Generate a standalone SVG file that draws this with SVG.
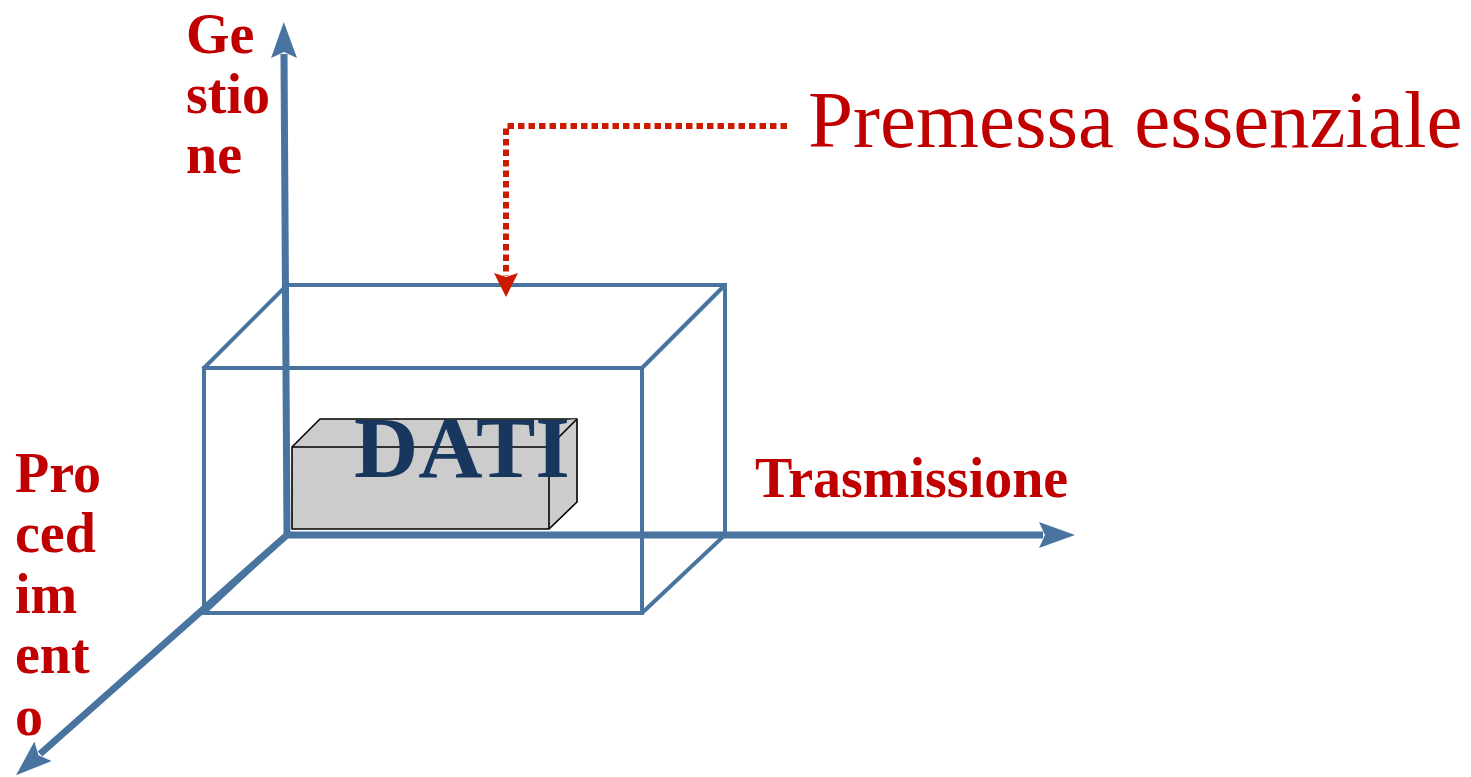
<svg xmlns="http://www.w3.org/2000/svg" width="1471" height="777" viewBox="0 0 1471 777">
<style>
.frame{fill:none;stroke:#4a74a0;stroke-width:4;stroke-linejoin:miter}
.axis{fill:none;stroke:#4a74a0;stroke-width:7}
.lbl{font-family:"Liberation Serif","Times New Roman",serif;font-weight:bold;fill:#c00000;font-size:56px}
.dati{fill:#cccccc;stroke:#000;stroke-width:1.6;stroke-linejoin:round}
</style>
<defs>
<marker id="ah" markerUnits="userSpaceOnUse" markerWidth="40" markerHeight="30" refX="4" refY="13" orient="auto" viewBox="0 0 40 30">
<path d="M36,13 L0,0 L6,13 L0,26 Z" fill="#4a74a0"/>
</marker>
<marker id="rh" markerUnits="userSpaceOnUse" markerWidth="26" markerHeight="26" refX="3" refY="12" orient="auto" viewBox="0 0 26 26">
<path d="M24,12 L0,0 L4,12 L0,24 Z" fill="#cc1a00"/>
</marker>
</defs>
<g id="frame">
<rect class="frame" x="204" y="368" width="438" height="245"/>
<polyline class="frame" points="204,368 287,285 725,285 725,535 642,613"/>
<line class="frame" x1="642" y1="368" x2="725" y2="285"/>
<line class="frame" x1="204" y1="613" x2="287" y2="535"/>
</g>
<g id="dati">
<polygon class="dati" points="292,447 320,419 577,419 577,502 549,529 292,529"/>
<polyline class="dati" points="292,447 549,447 577,419" fill="none"/>
<line class="dati" x1="549" y1="447" x2="549" y2="529"/>
<text x="354" y="477" font-family="Liberation Serif,'Times New Roman',serif" font-weight="bold" font-size="87" fill="#17375e" textLength="216" lengthAdjust="spacingAndGlyphs">DATI</text>
</g>
<g id="connectors">
<line class="axis" x1="287" y1="535" x2="284" y2="54" marker-end="url(#ah)"/>
<line class="axis" x1="284" y1="535" x2="1043" y2="535" marker-end="url(#ah)"/>
<line class="axis" x1="287" y1="535" x2="40" y2="754" marker-end="url(#ah)"/>
<polyline points="787,126 506,126 506,276" fill="none" stroke="#cc1a00" stroke-width="6" stroke-dasharray="6.5 4" marker-end="url(#rh)"/>
</g>
<g id="labels">
<text class="lbl" x="186" y="53">Ge</text>
<text class="lbl" x="186" y="113">stio</text>
<text class="lbl" x="186" y="173">ne</text>
<text class="lbl" x="15" y="492">Pro</text>
<text class="lbl" x="15" y="552">ced</text>
<text class="lbl" x="15" y="613">im</text>
<text class="lbl" x="15" y="673">ent</text>
<text class="lbl" x="15" y="735">o</text>
<text class="lbl" x="755" y="497" font-size="55">Trasmissione</text>
<text x="808" y="147" font-family="Liberation Serif,'Times New Roman',serif" font-size="81" fill="#c00000">Premessa essenziale</text>
</g>
</svg>
